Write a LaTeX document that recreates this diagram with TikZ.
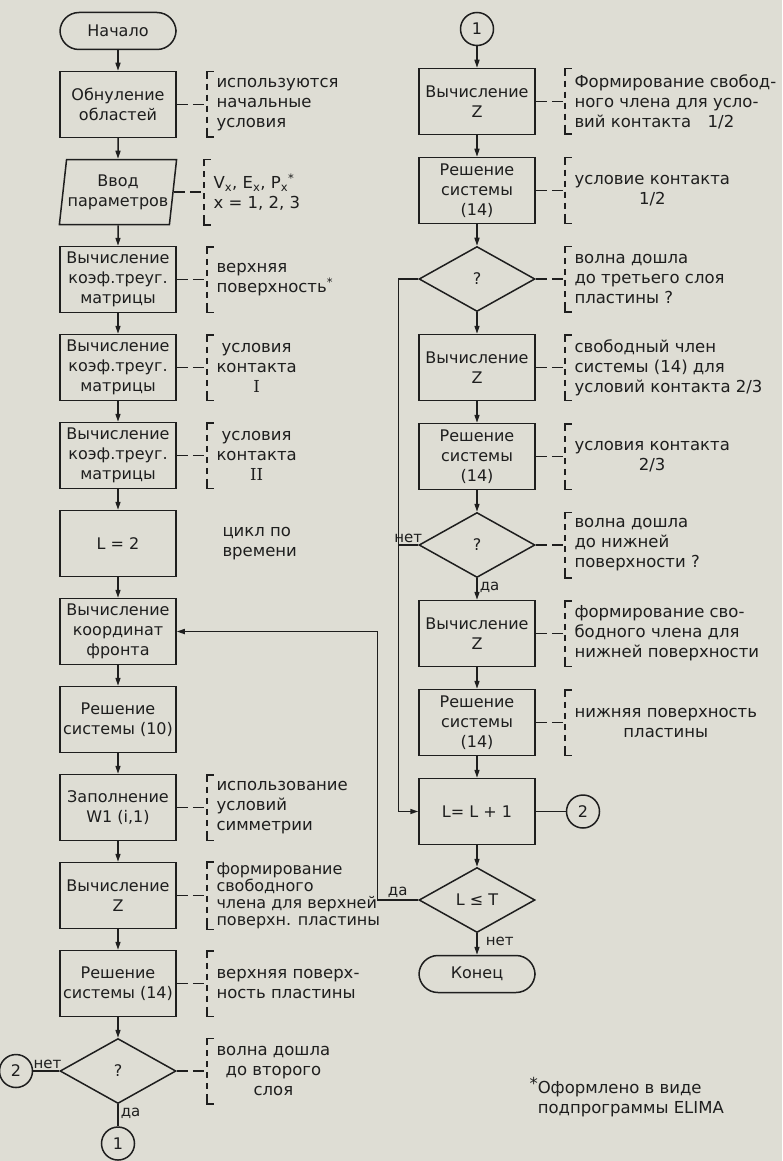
\documentclass[tikz,border=0pt]{standalone}
\usepackage{fontspec}
\setmainfont{DejaVu Sans}
\newfontfamily\numeralfont{DejaVu Serif}
\usetikzlibrary{shapes.geometric, arrows.meta, positioning}

\definecolor{paper}{RGB}{222,221,212}
\definecolor{ink}{RGB}{30,30,30}

\begin{document}
\begin{tikzpicture}[
    x=1pt, y=-1pt,
    node distance=20.5pt,
    line width=1.5pt,
    color=ink,
    every node/.style={font=\fontsize{16pt}{20pt}\selectfont},
    process_block/.style={
            draw,
            rectangle,
            minimum width=116pt,
            minimum height=66pt,
            inner sep=2pt,
            align=center
        },
    io_block/.style={
            draw,
            trapezium,
            trapezium left angle=79,
            trapezium right angle=101,
            trapezium stretches=true,
            minimum width=116pt,
            minimum height=65pt,
            inner sep=1pt,
            align=center
        },
    decision_block/.style={draw, diamond, minimum width=116pt, minimum height=65pt, inner sep=0pt},
    terminal_block/.style={draw, rectangle, rounded corners=19pt, minimum width=116pt, minimum height=37pt},
    connector_block/.style={draw, circle, minimum size=33pt, inner sep=0pt},
    arrow/.style={-{Triangle[length=8pt, width=5pt]}},
    note_link/.style={dash pattern=on 11pt off 5pt},
    note_text/.style={align=left, inner xsep=9pt, font=\fontsize{16.5pt}{20pt}\selectfont},
    note_block/.style={
            note_text,
            minimum height=64pt,
            append after command={
                    ([yshift=-7pt]\tikzlastnode.north west) edge[to path={|- (\tikztotarget)}] ([xshift=7pt]\tikzlastnode.north west)
                    ([yshift=7pt]\tikzlastnode.south west) edge[to path={|- (\tikztotarget)}] ([xshift=7pt]\tikzlastnode.south west)
                    ([yshift=-7pt]\tikzlastnode.north west) edge[dash pattern=on 6pt off 5pt, dash phase=6pt] ([yshift=7pt]\tikzlastnode.south west)
                }
        },
    tight_lines/.style={font=\fontsize{16pt}{17pt}\selectfont, inner ysep=0pt},
    branch_label/.style={font=\fontsize{15pt}{17pt}\selectfont, inner sep=2pt}
    ]

    % --- Sheet ---
    \useasboundingbox (0,0) rectangle (782,1161);
    \fill[paper] (0,0) rectangle (782,1161);

    % --- Left column ---
    \node[terminal_block] (start) at (118,31) {Начало};
    \node[process_block, below=of start] (clear_areas) {Обнуление\\областей};
    \node[io_block, below=of clear_areas] (input_params) {Ввод\\параметров};
    \node[process_block, below=of input_params] (coef_top) {Вычисление\\коэф.треуг.\\матрицы};
    \node[process_block, below=of coef_top] (coef_one) {Вычисление\\коэф.треуг.\\матрицы};
    \node[process_block, below=of coef_one] (coef_two) {Вычисление\\коэф.треуг.\\матрицы};
    \node[process_block, below=of coef_two] (loop_init) {L = 2};
    \node[process_block, below=of loop_init] (calc_front) {Вычисление\\координат\\фронта};
    \node[process_block, below=of calc_front] (solve_ten) {Решение\\системы (10)};
    \node[process_block, below=of solve_ten] (fill_sym) {Заполнение\\W1 (i,1)};
    \node[process_block, below=of fill_sym] (calc_z_top) {Вычисление\\Z};
    \node[process_block, below=of calc_z_top] (solve_top) {Решение\\системы (14)};
    \node[decision_block, below=of solve_top] (wave_second) {?};
    \node[connector_block, left=26pt of wave_second] (jump_two_out) {2};
    \node[connector_block, below=22pt of wave_second] (jump_one_out) {1};

    % --- Right column ---
    \node[connector_block] (jump_one_in) at (477,29) {1};
    \node[process_block, below=21.5pt of jump_one_in] (calc_z_first) {Вычисление\\Z};
    \node[process_block, below=21.5pt of calc_z_first] (solve_first) {Решение\\системы\\(14)};
    \node[decision_block, below=21.5pt of solve_first] (wave_third) {?};
    \node[process_block, below=21.5pt of wave_third] (calc_z_second) {Вычисление\\Z};
    \node[process_block, below=21.5pt of calc_z_second] (solve_second) {Решение\\системы\\(14)};
    \node[decision_block, below=21.5pt of solve_second] (wave_bottom) {?};
    \node[process_block, below=21.5pt of wave_bottom] (calc_z_bottom) {Вычисление\\Z};
    \node[process_block, below=21.5pt of calc_z_bottom] (solve_bottom) {Решение\\системы\\(14)};
    \node[process_block, below=21.5pt of solve_bottom] (step_time) {L= L + 1};
    \node[connector_block, right=30pt of step_time] (jump_two_in) {2};
    \node[decision_block, below=21.5pt of step_time] (time_check) {L ≤ T};
    \node[terminal_block, below=21.5pt of time_check] (finish) {Конец};

    % --- Comments, left column ---
    \node[note_block, right=30pt of clear_areas] (clear_note) {используются\\начальные\\условия};
    \node[note_block, right=30pt of input_params] (input_note) {V\textsubscript{x}, E\textsubscript{x}, P\textsubscript{x}\textsuperscript{*}\\x = 1, 2, 3};
    \node[note_block, right=30pt of coef_top] (coef_top_note) {верхняя\\поверхность\textsuperscript{*}};
    \node[note_block, align=center, right=30pt of coef_one] (coef_one_note) {условия\\контакта\\{\numeralfont I}};
    \node[note_block, align=center, right=30pt of coef_two] (coef_two_note) {условия\\контакта\\{\numeralfont II}};
    \node[note_text, right=36pt of loop_init] (loop_note) {цикл по\\времени};
    \node[note_block, right=30pt of fill_sym] (fill_note) {использование\\условий\\симметрии};
    \node[note_block, tight_lines, right=30pt of calc_z_top] (calc_z_top_note) {формирование\\свободного\\члена для верхней\\поверхн. пластины};
    \node[note_block, right=30pt of solve_top] (solve_top_note) {верхняя поверх-\\ность пластины};
    \node[note_block, align=center, right=30pt of wave_second] (wave_second_note) {волна дошла\\до второго\\слоя};

    % --- Comments, right column ---
    \node[note_block, right=29pt of calc_z_first] (calc_z_first_note) {Формирование свобод-\\ного члена для усло-\\вий контакта\quad 1/2};
    \node[note_block, align=center, right=29pt of solve_first] (solve_first_note) {условие контакта\\1/2};
    \node[note_block, right=29pt of wave_third] (wave_third_note) {волна дошла\\до третьего слоя\\пластины ?};
    \node[note_block, right=29pt of calc_z_second] (calc_z_second_note) {свободный член\\системы (14) для\\условий контакта 2/3};
    \node[note_block, align=center, right=29pt of solve_second] (solve_second_note) {условия контакта\\2/3};
    \node[note_block, right=29pt of wave_bottom] (wave_bottom_note) {волна дошла\\до нижней\\поверхности ?};
    \node[note_block, right=29pt of calc_z_bottom] (calc_z_bottom_note) {формирование сво-\\бодного члена для\\нижней поверхности};
    \node[note_block, align=center, right=29pt of solve_bottom] (solve_bottom_note) {нижняя поверхность\\пластины};

    % --- Footnote ---
    \node[note_text, anchor=west] (elima_note) at (528,1097) {\llap{\raisebox{0.5ex}{*}}Оформлено в виде\\подпрограммы ELIMA};

    % --- Arrows, left column ---
    \draw[arrow] (start) -- (clear_areas);
    \draw[arrow] (clear_areas) -- (input_params);
    \draw[arrow] (input_params) -- (coef_top);
    \draw[arrow] (coef_top) -- (coef_one);
    \draw[arrow] (coef_one) -- (coef_two);
    \draw[arrow] (coef_two) -- (loop_init);
    \draw[arrow] (loop_init) -- (calc_front);
    \draw[arrow] (calc_front) -- (solve_ten);
    \draw[arrow] (solve_ten) -- (fill_sym);
    \draw[arrow] (fill_sym) -- (calc_z_top);
    \draw[arrow] (calc_z_top) -- (solve_top);
    \draw[arrow] (solve_top) -- (wave_second);
    \draw (wave_second.west) -- node[branch_label, above, pos=0.45] {нет} (jump_two_out);
    \draw (wave_second.south) -- node[branch_label, right, pos=0.4] {да} (jump_one_out);

    % --- Arrows, right column ---
    \draw[arrow] (jump_one_in) -- (calc_z_first);
    \draw[arrow] (calc_z_first) -- (solve_first);
    \draw[arrow] (solve_first) -- (wave_third);
    \draw[arrow] (wave_third) -- (calc_z_second);
    \draw[arrow] (calc_z_second) -- (solve_second);
    \draw[arrow] (solve_second) -- (wave_bottom);
    \draw[arrow] (wave_bottom) -- node[branch_label, right, pos=0.4] {да} (calc_z_bottom);
    \draw[arrow] (calc_z_bottom) -- (solve_bottom);
    \draw[arrow] (solve_bottom) -- (step_time);
    \draw[arrow] (step_time) -- (time_check);
    \draw[arrow] (time_check) -- node[branch_label, right=6pt, pos=0.4] {нет} (finish);
    \draw (step_time.east) -- (jump_two_in);

    % --- Loops ---
    \draw[arrow] (wave_third.west) -- ++(-20pt,0) |- (step_time.west);
    \draw (wave_bottom.west) -- node[branch_label, above] {нет} ++(-20pt,0);
    \draw[arrow] (time_check.west) -- node[branch_label, above] {да} ++(-41pt,0) |- (calc_front.east);

    % --- Comment links ---
    \draw[note_link] (clear_areas.east) -- (clear_note.west);
    \draw[note_link] (input_params.east) -- (input_note.west);
    \draw[note_link] (coef_top.east) -- (coef_top_note.west);
    \draw[note_link] (coef_one.east) -- (coef_one_note.west);
    \draw[note_link] (coef_two.east) -- (coef_two_note.west);
    \draw[note_link] (fill_sym.east) -- (fill_note.west);
    \draw[note_link] (calc_z_top.east) -- (calc_z_top_note.west);
    \draw[note_link] (solve_top.east) -- (solve_top_note.west);
    \draw[note_link] (wave_second.east) -- (wave_second_note.west);
    \draw[note_link] (calc_z_first.east) -- (calc_z_first_note.west);
    \draw[note_link] (solve_first.east) -- (solve_first_note.west);
    \draw[note_link] (wave_third.east) -- (wave_third_note.west);
    \draw[note_link] (calc_z_second.east) -- (calc_z_second_note.west);
    \draw[note_link] (solve_second.east) -- (solve_second_note.west);
    \draw[note_link] (wave_bottom.east) -- (wave_bottom_note.west);
    \draw[note_link] (calc_z_bottom.east) -- (calc_z_bottom_note.west);
    \draw[note_link] (solve_bottom.east) -- (solve_bottom_note.west);

\end{tikzpicture}
\end{document}
